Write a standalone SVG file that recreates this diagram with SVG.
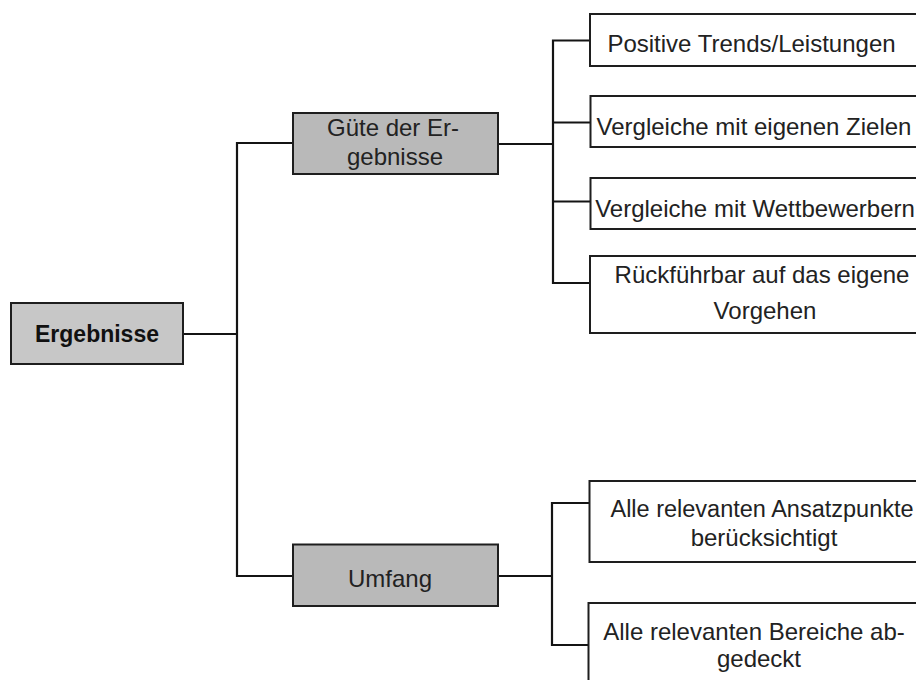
<svg xmlns="http://www.w3.org/2000/svg" width="916" height="680" viewBox="0 0 916 680">
  <style>
    .bg { fill: #ffffff; }
    .root { fill: #c7c7c7; stroke: #1e1e1e; stroke-width: 2; }
    .mid { fill: #b9b9b9; stroke: #1e1e1e; stroke-width: 2; }
    .leaf { fill: #ffffff; stroke: #1e1e1e; stroke-width: 2; }
    .wire { fill: none; stroke: #141414; stroke-width: 2.2; }
    text { font-family: "Liberation Sans", Arial, sans-serif; font-size: 24px; fill: #222222; text-anchor: middle; }
    .bold { font-weight: bold; font-size: 23px; fill: #111111; }
    .tight { font-size: 23.5px; }
  </style>
  <rect class="bg" x="0" y="0" width="916" height="680"/>

  <!-- connectors -->
  <g id="connectors">
    <!-- root to second level -->
    <path class="wire" d="M183,334 H237"/>
    <path class="wire" d="M293,143 H237 V576 H293"/>
    <!-- Güte der Ergebnisse fan-out -->
    <path class="wire" d="M498,144 H553"/>
    <path class="wire" d="M590,40.5 H553 V283 H590"/>
    <path class="wire" d="M553,122.5 H590"/>
    <path class="wire" d="M553,201.5 H590"/>
    <!-- Umfang fan-out -->
    <path class="wire" d="M498,576 H552"/>
    <path class="wire" d="M589,503 H552 V645 H588"/>
  </g>

  <!-- root -->
  <g id="node-ergebnisse">
    <rect class="root" x="11" y="303" width="172" height="61"/>
    <text class="bold" x="97" y="341.5">Ergebnisse</text>
  </g>

  <!-- second level -->
  <g id="node-guete">
    <rect class="mid" x="293" y="113" width="205" height="61"/>
    <text x="393" y="136">Güte der Er-</text>
    <text x="395" y="165">gebnisse</text>
  </g>
  <g id="node-umfang">
    <rect class="mid" x="293" y="544.5" width="205" height="61.5"/>
    <text x="390" y="586.5">Umfang</text>
  </g>

  <!-- leaves under Güte der Ergebnisse -->
  <g id="node-trends">
    <rect class="leaf" x="590" y="14" width="340" height="52"/>
    <text x="751.5" y="52">Positive Trends/Leistungen</text>
  </g>
  <g id="node-ziele">
    <rect class="leaf" x="590.5" y="96" width="340" height="51"/>
    <text x="754" y="135">Vergleiche mit eigenen Zielen</text>
  </g>
  <g id="node-wettbewerber">
    <rect class="leaf" x="590.5" y="178" width="340" height="51"/>
    <text x="755" y="216.5">Vergleiche mit Wettbewerbern</text>
  </g>
  <g id="node-vorgehen">
    <rect class="leaf" x="590" y="256" width="340" height="77"/>
    <text x="762" y="283.3">Rückführbar auf das eigene</text>
    <text x="765" y="319.3">Vorgehen</text>
  </g>

  <!-- leaves under Umfang -->
  <g id="node-ansatzpunkte">
    <rect class="leaf" x="589.5" y="481" width="340" height="81"/>
    <text class="tight" x="762" y="516.7">Alle relevanten Ansatzpunkte</text>
    <text x="764" y="545.5">berücksichtigt</text>
  </g>
  <g id="node-bereiche">
    <rect class="leaf" x="588.5" y="603" width="340" height="100"/>
    <text x="754" y="640">Alle relevanten Bereiche ab-</text>
    <text x="759" y="667">gedeckt</text>
  </g>
</svg>
